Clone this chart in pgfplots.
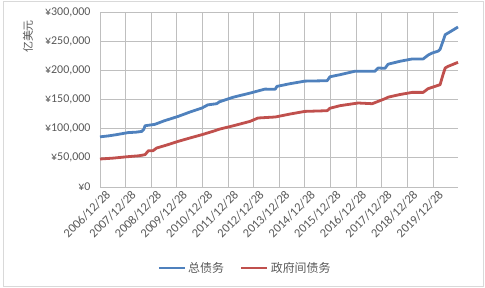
\documentclass[border=0pt]{standalone}
\usepackage{fontspec}
\setmainfont{Carlito}
\newfontfamily\cjk{Noto Sans CJK SC}
\usepackage{pgfplots}
\pgfplotsset{compat=1.18}
\definecolor{txt}{HTML}{595959}
\definecolor{grid}{HTML}{D9D9D9}
\definecolor{sblue}{HTML}{4F81BD}
\definecolor{sred}{HTML}{C0504D}
\begin{document}
\begin{tikzpicture}
\useasboundingbox (0,0) rectangle (485bp,288bp);
\draw[grid, line width=0.75bp] (3bp,2bp) rectangle (483bp,287bp);
\begin{axis}[
  at={(100bp,101bp)}, anchor=south west,
  scale only axis, width=358bp, height=175bp,
  xmin=2006.99, xmax=2020.97,
  ymin=0, ymax=300000,
  scaled y ticks=false,
  axis line style={draw=none},
  ytick={0,50000,100000,150000,200000,250000,300000},
  yticklabels={{¥0},{¥50,000},{¥100,000},{¥150,000},{¥200,000},{¥250,000},{¥300,000}},
  xtick={2006.99,2007.99,2008.99,2009.99,2010.99,2011.99,2012.99,2013.99,2014.99,2015.99,2016.99,2017.99,2018.99,2019.99},
  xticklabels={2006/12/28,2007/12/28,2008/12/28,2009/12/28,2010/12/28,2011/12/28,2012/12/28,2013/12/28,2014/12/28,2015/12/28,2016/12/28,2017/12/28,2018/12/28,2019/12/28},
  tick style={draw=none},
  ymajorgrids, grid style={grid, line width=0.75bp},
  yticklabel style={font=\fontsize{12}{14}\selectfont, text=txt, xshift=-6bp},
  xticklabel style={font=\fontsize{12.5}{14}\selectfont, text=txt, rotate=45, anchor=east, yshift=-10bp, xshift=5bp},
  legend columns=2,
  legend style={at={(axis description cs:0.405,-0.463)}, anchor=center, draw=none, fill=none,
    font=\fontsize{12}{14}\selectfont\cjk, text=txt, inner xsep=1bp,
    /tikz/every even column/.append style={column sep=14bp}},
  legend image code/.code={\draw[#1] (0bp,0bp) -- (26bp,0bp);},
  clip=false,
]
\addplot[sblue, line width=2.8bp, line join=round] coordinates {
(2006.99,86000) (2007.30,87500) (2007.60,89500) (2008.08,93200) (2008.40,94000) (2008.62,95300)
(2008.70,99000) (2008.75,105000) (2009.14,107500) (2009.50,113500) (2010.04,121000)
(2010.50,128500) (2010.97,135400) (2011.20,140800) (2011.55,142800) (2011.65,146000)
(2012.20,154000) (2012.85,161000) (2013.43,167800) (2013.83,167500) (2013.90,172500)
(2014.40,177000) (2014.99,181500) (2015.86,182200) (2015.97,189000) (2016.36,192500)
(2016.95,198500) (2017.73,198500) (2017.85,204000) (2018.12,203500) (2018.24,210500)
(2018.70,215500) (2019.18,219500) (2019.61,219500) (2019.80,226000) (2019.96,229700)
(2020.20,233000) (2020.27,236000) (2020.40,252000) (2020.47,261100) (2020.66,266000)
(2020.97,274300)
};
\addlegendentry{总债务}
\addplot[sred, line width=2.8bp, line join=round] coordinates {
(2006.99,48000) (2007.50,49500) (2008.08,52000) (2008.50,53500) (2008.75,55400)
(2008.88,62200) (2009.06,62200) (2009.20,66800) (2009.60,72000) (2010.04,78200)
(2010.50,84000) (2010.97,89700) (2011.48,96500) (2011.64,99000) (2012.20,105000)
(2012.85,112500) (2013.16,118300) (2013.83,120000) (2014.40,125000) (2014.99,129600)
(2015.86,130800) (2015.97,135000) (2016.36,139400) (2017.07,144000) (2017.62,142800)
(2018.12,151400) (2018.24,154000) (2018.70,158500) (2019.18,162200) (2019.61,162200)
(2019.80,168500) (2020.27,175400) (2020.38,192000) (2020.47,204000) (2020.58,206800)
(2020.97,213700)
};
\addlegendentry{政府间债务}
\node[rotate=90, anchor=center, font=\fontsize{11}{13}\selectfont\cjk, text=txt, inner sep=0pt]
  at (axis description cs:-0.201,0.86) {亿美元};
\end{axis}
\end{tikzpicture}
\end{document}
